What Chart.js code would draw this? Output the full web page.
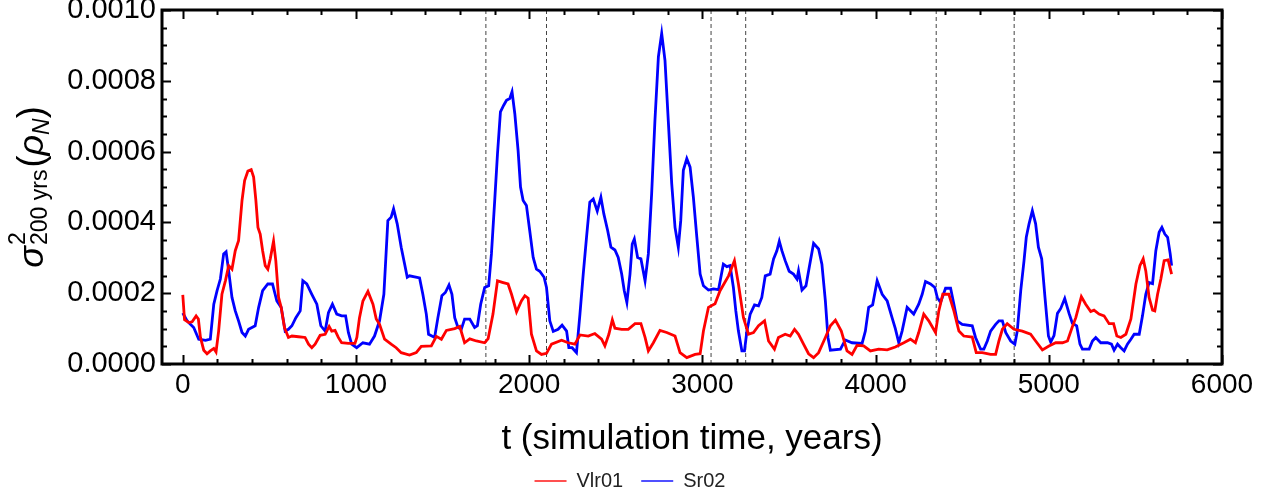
<!DOCTYPE html>
<html>
<head>
<meta charset="utf-8">
<script src="https://cdn.jsdelivr.net/npm/chart.js@4.4.1/dist/chart.umd.min.js"></script>
<style>
html, body { margin: 0; padding: 0; background: #fff; }
#wrap { width: 1276px; height: 494px; }
</style>
</head>
<body>
<div id="wrap"><canvas id="chart"></canvas></div>
<script>
// values are in units of 1e-4
const UNIT = 1e-4;

const seriesNames = ['Vlr01', 'Sr02'];
const seriesColors = ['#ff0000', '#0000ff'];
const legendColors = ['#ff5050', '#5050ff'];

const redT = [0, 10, 35, 54, 77, 90, 102, 121, 140, 159, 179, 192, 207, 226, 246, 265, 284, 303, 322, 342,
  357, 376, 395, 409, 422, 434, 447, 461, 476, 491, 505, 524, 537, 553, 568, 587, 610, 630, 668, 706,
  726, 745, 764, 793, 822, 845, 860, 879, 898, 917, 956, 994, 1005, 1020, 1040, 1069, 1098, 1117, 1136, 1165,
  1203, 1232, 1261, 1309, 1348, 1377, 1435, 1464, 1493, 1522, 1570, 1599, 1627, 1657, 1695, 1743, 1763, 1791, 1817, 1850,
  1878, 1898, 1927, 1955, 1975, 1994, 2013, 2042, 2071, 2100, 2129, 2187, 2225, 2264, 2293, 2341, 2379, 2418, 2437, 2460,
  2480, 2495, 2534, 2572, 2611, 2645, 2669, 2688, 2717, 2755, 2794, 2842, 2871, 2910, 2958, 2987, 3006, 3035, 3073, 3102,
  3151, 3185, 3208, 3237, 3266, 3295, 3324, 3359, 3382, 3416, 3439, 3478, 3507, 3532, 3555, 3584, 3613, 3642, 3671, 3710,
  3739, 3768, 3802, 3835, 3864, 3893, 3931, 3970, 4018, 4067, 4114, 4163, 4201, 4230, 4249, 4278, 4307, 4346, 4365, 4388,
  4423, 4452, 4481, 4509, 4558, 4581, 4616, 4664, 4693, 4712, 4732, 4760, 4799, 4847, 4895, 4924, 4963, 5001, 5040, 5079,
  5108, 5136, 5156, 5188, 5213, 5242, 5261, 5290, 5319, 5348, 5374, 5393, 5416, 5445, 5474, 5503, 5526, 5545, 5560, 5579,
  5599, 5612, 5628, 5647, 5666, 5689, 5709];
const redV = [1.95, 1.25, 1.17, 1.19, 1.36, 1.27, 0.75, 0.39, 0.29, 0.37, 0.44, 0.34, 0.93, 1.97, 2.35, 2.78, 2.68, 3.2, 3.48, 4.62,
  5.18, 5.45, 5.49, 5.28, 4.62, 3.86, 3.67, 3.2, 2.78, 2.68, 2.97, 3.47, 2.92, 1.88, 1.6, 1.03, 0.75, 0.79, 0.77, 0.75,
  0.56, 0.46, 0.56, 0.81, 0.84, 1.06, 0.93, 0.95, 0.75, 0.6, 0.58, 0.58, 0.75, 1.3, 1.78, 2.05, 1.69, 1.27, 1.12, 0.7,
  0.56, 0.46, 0.32, 0.25, 0.32, 0.5, 0.51, 0.78, 0.7, 0.95, 1.0, 1.06, 0.6, 0.71, 0.65, 0.6, 0.72, 1.41, 2.35, 2.3,
  2.26, 1.97, 1.47, 1.78, 1.93, 1.86, 0.84, 0.37, 0.27, 0.3, 0.56, 0.67, 0.6, 0.56, 0.82, 0.79, 0.86, 0.7, 0.51, 0.84,
  1.25, 1.01, 0.98, 0.98, 1.14, 1.14, 0.75, 0.37, 0.6, 0.95, 0.89, 0.79, 0.32, 0.18, 0.27, 0.29, 0.93, 1.6, 1.7, 2.07,
  2.49, 2.92, 2.26, 1.31, 0.84, 0.89, 1.08, 1.22, 0.65, 0.42, 0.75, 0.84, 0.79, 0.98, 0.84, 0.56, 0.29, 0.18, 0.32, 0.75,
  1.08, 1.24, 0.93, 0.37, 0.27, 0.53, 0.51, 0.37, 0.42, 0.4, 0.48, 0.6, 0.7, 0.6, 0.89, 1.41, 1.22, 0.89, 1.5, 1.97,
  1.97, 1.5, 0.93, 0.79, 0.76, 0.32, 0.32, 0.27, 0.27, 0.65, 0.98, 1.14, 0.98, 0.93, 0.84, 0.65, 0.4, 0.51, 0.6, 0.6,
  0.65, 1.05, 1.31, 1.9, 1.69, 1.48, 1.52, 1.41, 1.36, 1.14, 1.14, 0.79, 0.75, 0.84, 1.27, 2.26, 2.78, 2.97, 2.63, 1.88,
  1.52, 1.5, 1.97, 2.4, 2.92, 2.94, 2.54];

const blueT = [0, 25, 44, 63, 92, 131, 159, 179, 198, 217, 236, 250, 265, 284, 303, 322, 342, 361, 380, 418,
  438, 461, 491, 518, 543, 568, 591, 610, 630, 653, 678, 693, 716, 745, 774, 797, 822, 841, 864, 889,
  917, 940, 956, 975, 1004, 1040, 1078, 1107, 1136, 1161, 1184, 1203, 1217, 1238, 1261, 1281, 1296, 1309, 1367, 1386,
  1406, 1419, 1454, 1473, 1496, 1516, 1537, 1554, 1570, 1589, 1608, 1627, 1657, 1685, 1701, 1720, 1743, 1766, 1782, 1801,
  1817, 1834, 1853, 1869, 1888, 1901, 1917, 1936, 1950, 1965, 1984, 2003, 2023, 2042, 2061, 2086, 2100, 2119, 2139, 2167,
  2190, 2216, 2229, 2248, 2273, 2293, 2312, 2331, 2350, 2370, 2393, 2414, 2431, 2453, 2472, 2495, 2514, 2534, 2549, 2564,
  2582, 2595, 2607, 2626, 2645, 2669, 2688, 2707, 2726, 2746, 2765, 2784, 2803, 2823, 2842, 2861, 2875, 2890, 2910, 2929,
  2948, 2968, 2987, 3006, 3035, 3064, 3093, 3121, 3141, 3160, 3179, 3193, 3208, 3228, 3243, 3257, 3276, 3301, 3324, 3343,
  3363, 3391, 3411, 3430, 3444, 3459, 3478, 3501, 3526, 3546, 3555, 3575, 3598, 3617, 3642, 3671, 3690, 3710, 3725, 3739,
  3797, 3825, 3864, 3922, 3941, 3960, 3983, 4009, 4038, 4067, 4095, 4114, 4134, 4153, 4182, 4220, 4249, 4269, 4288, 4317,
  4342, 4356, 4375, 4404, 4433, 4452, 4471, 4500, 4558, 4577, 4606, 4625, 4645, 4664, 4693, 4712, 4732, 4751, 4780, 4804,
  4818, 4838, 4857, 4870, 4886, 4905, 4924, 4940, 4959, 4978, 4998, 5011, 5030, 5050, 5069, 5092, 5117, 5136, 5161, 5180,
  5194, 5233, 5252, 5271, 5300, 5339, 5362, 5377, 5397, 5416, 5435, 5454, 5474, 5493, 5522, 5541, 5560, 5579, 5599, 5618,
  5637, 5653, 5670, 5686, 5701, 5709];
const blueV = [1.44, 1.22, 1.12, 1.03, 0.7, 0.67, 0.7, 1.69, 2.07, 2.4, 3.11, 3.17, 2.63, 1.88, 1.5, 1.22, 0.89, 0.79, 0.98, 1.08,
  1.6, 2.07, 2.26, 2.26, 1.78, 1.6, 0.93, 0.98, 1.08, 1.31, 1.5, 2.35, 2.26, 1.97, 1.69, 1.08, 0.93, 1.45, 1.69, 1.41,
  1.36, 1.36, 0.89, 0.56, 0.46, 0.6, 0.56, 0.79, 1.22, 1.97, 4.05, 4.15, 4.38, 3.96, 3.3, 2.82, 2.45, 2.49, 2.43, 1.97,
  1.41, 0.84, 0.75, 1.31, 1.93, 2.02, 2.23, 1.97, 1.31, 1.03, 0.98, 1.27, 1.27, 1.03, 1.08, 1.69, 2.16, 2.21, 3.11, 4.62,
  5.94, 7.12, 7.31, 7.45, 7.5, 7.69, 7.07, 6.03, 5.0, 4.62, 4.48, 3.77, 3.01, 2.68, 2.62, 2.45, 2.16, 1.22, 0.92, 0.98,
  1.1, 0.93, 0.46, 0.46, 0.32, 1.41, 2.54, 3.58, 4.57, 4.66, 4.32, 4.71, 4.24, 3.77, 3.3, 3.22, 3.01, 2.54, 2.07, 1.74,
  2.54, 3.39, 3.53, 3.01, 2.97, 2.35, 3.11, 4.81, 6.88, 8.68, 9.34, 8.58, 6.88, 5.09, 3.86, 3.3, 4.05, 5.47, 5.8, 5.56,
  4.71, 3.58, 2.54, 2.21, 2.09, 2.12, 2.1, 2.82, 2.75, 2.78, 2.16, 1.5, 0.93, 0.37, 0.37, 0.93, 1.41, 1.67, 1.64, 1.88,
  2.49, 2.54, 2.97, 3.2, 3.47, 3.2, 2.92, 2.62, 2.54, 2.4, 2.63, 2.09, 2.21, 2.73, 3.41, 3.25, 2.82, 1.78, 0.75, 0.39,
  0.42, 0.68, 0.6, 0.58, 0.93, 1.6, 1.67, 2.35, 1.97, 1.78, 1.31, 1.0, 0.6, 0.93, 1.6, 1.41, 1.69, 1.97, 2.33, 2.26,
  2.16, 1.88, 1.74, 2.14, 2.14, 1.69, 1.22, 1.12, 1.08, 0.75, 0.42, 0.42, 0.65, 0.93, 1.12, 1.22, 1.22, 0.89, 0.65, 0.56,
  0.93, 2.07, 2.92, 3.58, 3.96, 4.33, 3.96, 3.3, 2.97, 1.88, 0.79, 0.62, 0.8, 1.43, 1.57, 1.85, 1.43, 1.15, 1.08, 0.56,
  0.42, 0.42, 0.65, 0.75, 0.6, 0.6, 0.56, 0.39, 0.56, 0.46, 0.37, 0.56, 0.7, 0.84, 0.84, 1.36, 1.97, 2.3, 2.27, 3.2,
  3.72, 3.86, 3.67, 3.58, 3.11, 2.78];

// dashed vertical markers (years)
const boundaries = [1750, 2100, 3050, 3250, 4350, 4800];

const xMajorTicks = [0, 1000, 2000, 3000, 4000, 5000, 6000];
const xMinorTicks = [200, 400, 600, 800, 1200, 1400, 1600, 1800, 2200, 2400, 2600, 2800,
  3200, 3400, 3600, 3800, 4200, 4400, 4600, 4800, 5200, 5400, 5600, 5800];
const yMajorTicks = [0, 0.0002, 0.0004, 0.0006, 0.0008, 0.0010];
const yMinorTicks = [0.00005, 0.0001, 0.00015, 0.00025, 0.0003, 0.00035, 0.00045, 0.0005, 0.00055,
  0.00065, 0.0007, 0.00075, 0.00085, 0.0009, 0.00095];

const xTitle = 't (simulation time, years)';

const FONT = '"Liberation Sans", Arial, sans-serif';
Chart.defaults.font.family = FONT;

function toPoints(ts, vs) {
    return ts.map((t, i) => ({ x: t, y: vs[i] * UNIT }));
}

const lineSets = [toPoints(redT, redV), toPoints(blueT, blueV)].map((pts, i) => ({
    label: seriesNames[i],
    data: pts,
    borderColor: seriesColors[i],
    borderWidth: 2.8,
    pointRadius: 0,
    tension: 0,
    fill: false
}));

const dashSets = boundaries.map(b => ({
    label: 'boundary',
    data: [{ x: b, y: 0 }, { x: b, y: 0.001 }],
    borderColor: '#444',
    borderWidth: 1,
    borderDash: [4, 3],
    pointRadius: 0,
    fill: false
}));

// inward ticks on all four sides + thick frame
const framePlugin = {
    id: 'frame',
    afterDatasetsDraw(chart) {
        const { ctx, chartArea: a, scales: { x, y } } = chart;
        ctx.save();
        ctx.strokeStyle = '#000';
        ctx.lineWidth = 2;
        ctx.beginPath();
        const xt = (vals, len) => vals.forEach(v => {
            const px = Math.round(x.getPixelForValue(v)) + 0.5;
            ctx.moveTo(px, a.bottom); ctx.lineTo(px, a.bottom - len);
            ctx.moveTo(px, a.top); ctx.lineTo(px, a.top + len);
        });
        const yt = (vals, len) => vals.forEach(v => {
            const py = Math.round(y.getPixelForValue(v)) + 0.5;
            ctx.moveTo(a.left, py); ctx.lineTo(a.left + len, py);
            ctx.moveTo(a.right, py); ctx.lineTo(a.right - len, py);
        });
        xt(xMajorTicks, 9);
        xt(xMinorTicks, 5);
        yt(yMajorTicks, 9);
        yt(yMinorTicks, 5);
        ctx.stroke();
        ctx.lineWidth = 3;
        ctx.strokeRect(a.left, a.top, a.right - a.left, a.bottom - a.top);
        ctx.restore();
    }
};

// y axis title: sigma^2_{200 yrs}(rho_N)
const yTitlePlugin = {
    id: 'yTitle',
    afterDraw(chart) {
        const { ctx, chartArea: a } = chart;
        const big = '36px ' + FONT;
        const bigI = 'italic 36px ' + FONT;
        const small = '23px ' + FONT;
        const smallI = 'italic 23px ' + FONT;
        ctx.save();
        ctx.translate(43, (a.top + a.bottom) / 2);
        ctx.rotate(-Math.PI / 2);
        ctx.fillStyle = '#000';
        ctx.textBaseline = 'alphabetic';
        ctx.textAlign = 'left';
        const w = (t, f) => { ctx.font = f; return ctx.measureText(t).width; };
        const wSig = w('σ', bigI);
        const wSup = w('2', small);
        const wSub = w('200 yrs', small);
        const wScript = Math.max(wSup, wSub);
        const wOpen = w('(', big);
        const wRho = w('ρ', bigI);
        const wN = w('N', smallI);
        const wClose = w(')', big);
        const total = wSig + 1 + wScript + 2 + wOpen + wRho + wN + wClose;
        let cx = -total / 2;
        ctx.font = bigI; ctx.fillText('σ', cx, 0); cx += wSig + 1;
        ctx.font = small; ctx.fillText('2', cx, -18); ctx.fillText('200 yrs', cx, 4); cx += wScript + 2;
        ctx.font = big; ctx.fillText('(', cx, 0); cx += wOpen;
        ctx.font = bigI; ctx.fillText('ρ', cx, 0); cx += wRho;
        ctx.font = smallI; ctx.fillText('N', cx, 6); cx += wN;
        ctx.font = big; ctx.fillText(')', cx, 0);
        ctx.restore();
    }
};

new Chart(document.getElementById('chart').getContext('2d'), {
    type: 'line',
    data: { datasets: lineSets.concat(dashSets) },
    options: {
        responsive: true,
        maintainAspectRatio: false,
        animation: false,
        events: [],
        layout: { padding: { top: 10, right: 16, bottom: -7, left: 0 }, autoPadding: false },
        plugins: {
            tooltip: { enabled: false },
            legend: {
                position: 'bottom',
                labels: {
                    boxWidth: 32,
                    boxHeight: 2,
                    padding: 18,
                    color: '#222',
                    font: { size: 20 },
                    generateLabels: () => seriesNames.map((n, i) => ({
                        text: n,
                        fillStyle: legendColors[i],
                        strokeStyle: legendColors[i],
                        lineWidth: 0,
                        datasetIndex: i,
                        fontColor: '#222'
                    }))
                }
            }
        },
        scales: {
            x: {
                type: 'linear',
                min: -120,
                max: 6000,
                grid: { display: false, drawTicks: false },
                border: { display: false },
                afterBuildTicks: s => { s.ticks = xMajorTicks.map(v => ({ value: v })); },
                afterFit: s => { s.height = 89; s.paddingLeft = 0; s.paddingRight = 0; },
                ticks: {
                    color: '#000',
                    font: { size: 28 },
                    padding: 4,
                    maxRotation: 0,
                    autoSkip: false,
                    callback: v => String(v)
                },
                title: {
                    display: true,
                    text: xTitle,
                    color: '#000',
                    font: { size: 35, lineHeight: 0.8 },
                    padding: { top: 0, bottom: 0 }
                }
            },
            y: {
                type: 'linear',
                min: 0,
                max: 0.001,
                grid: { display: false, drawTicks: false },
                border: { display: false },
                afterBuildTicks: s => { s.ticks = yMajorTicks.map(v => ({ value: v })); },
                afterFit: s => { s.width = 162; s.paddingTop = 0; s.paddingBottom = 0; },
                ticks: {
                    color: '#000',
                    font: { size: 29 },
                    padding: 6,
                    callback: v => v.toFixed(4)
                }
            },
            // empty right-hand axis: only reserves the margin right of the frame
            yRight: {
                type: 'linear',
                position: 'right',
                min: 0,
                max: 0.001,
                grid: { display: false, drawTicks: false },
                border: { display: false },
                ticks: { display: false },
                afterFit: s => { s.width = 38; s.paddingTop = 0; s.paddingBottom = 0; }
            }
        }
    },
    plugins: [framePlugin, yTitlePlugin]
});
</script>
</body>
</html>
